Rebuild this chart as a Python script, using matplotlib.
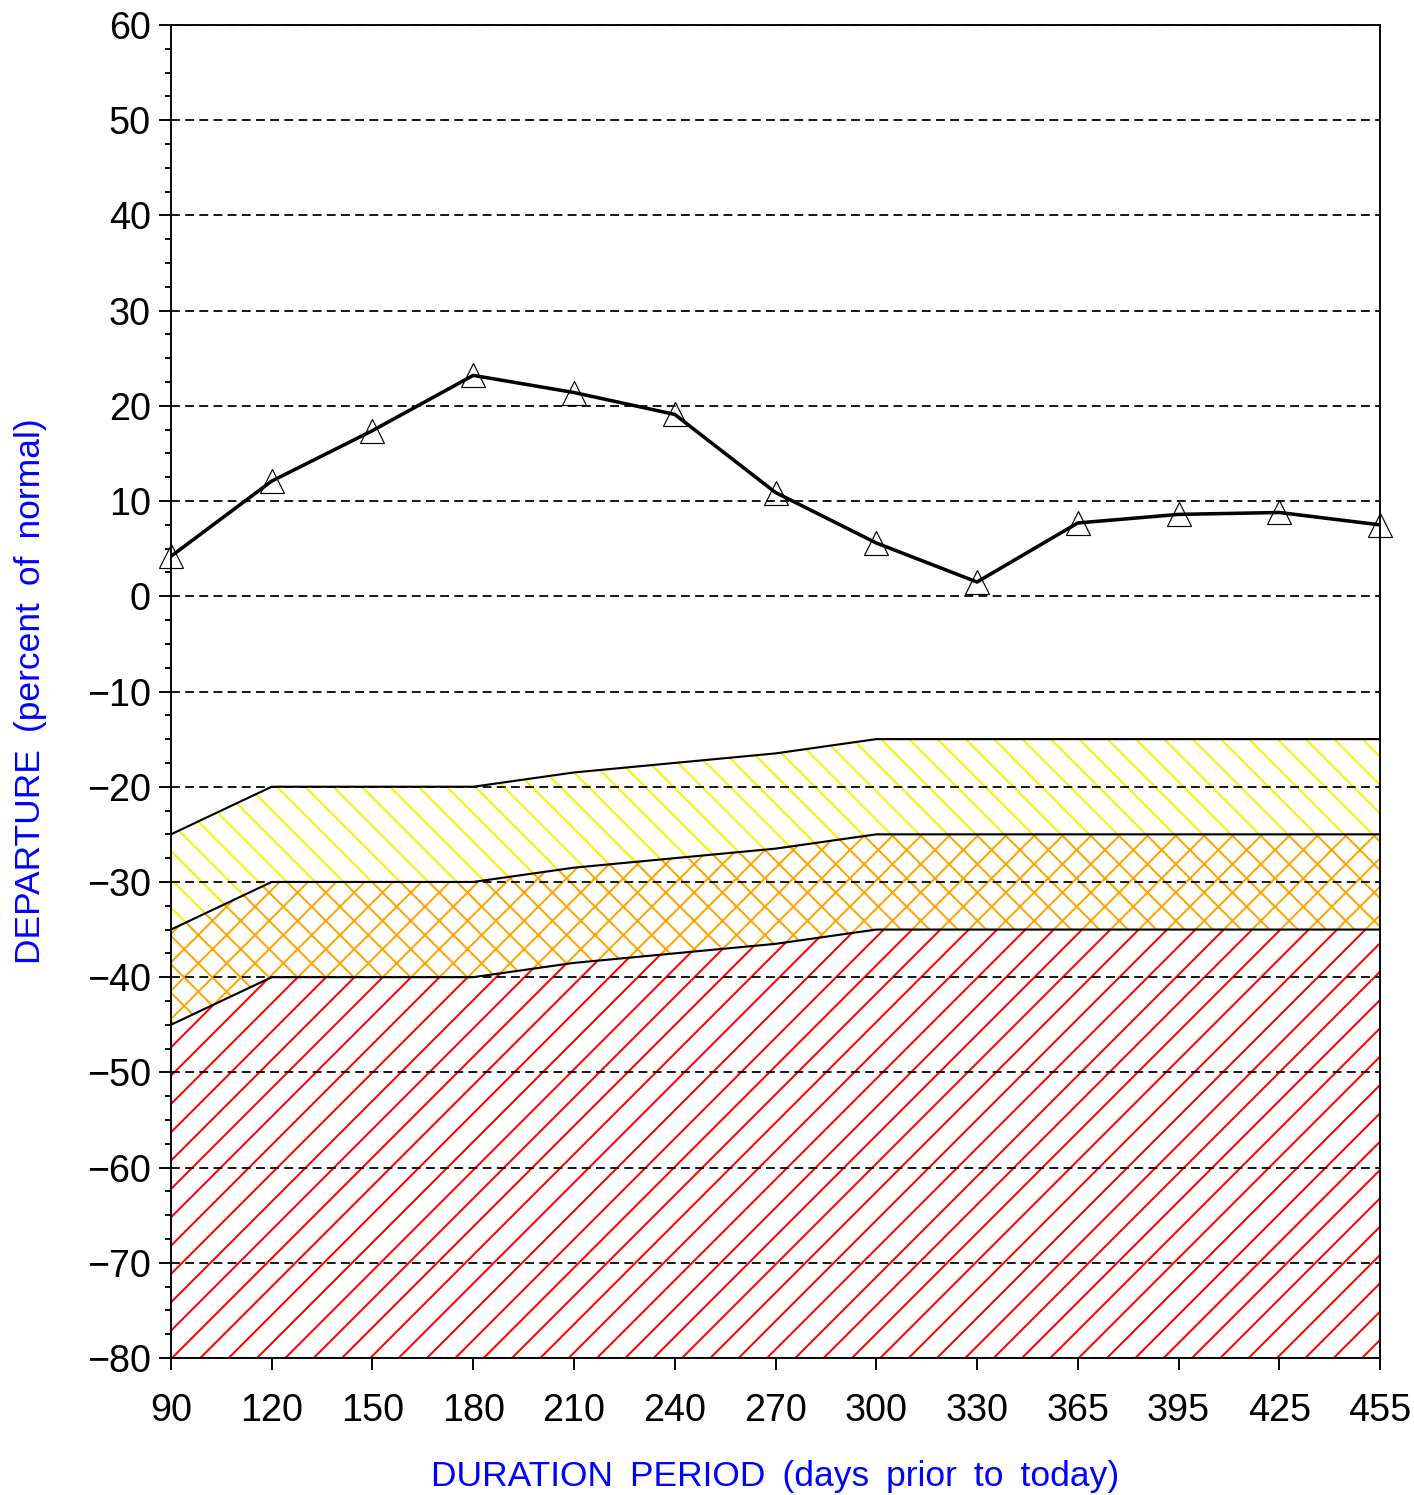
import numpy as np
import matplotlib.pyplot as plt
from matplotlib.ticker import MultipleLocator

plt.rcParams['font.family'] = ['Liberation Sans', 'DejaVu Sans']
plt.rcParams['hatch.linewidth'] = 0.85

# duration periods (days prior to today)
periods = ['90', '120', '150', '180', '210', '240', '270', '300', '330', '365', '395', '425', '455']
# departure (percent of normal)
departure = [4.2, 12.1, 17.4, 23.2, 21.4, 19.1, 10.9, 5.6, 1.5, 7.7, 8.6, 8.8, 7.5]

# drought thresholds
yellow_top = [-25, -20, -20, -20, -18.5, -17.5, -16.5, -15, -15, -15, -15, -15, -15]
orange_top = [-35, -30, -30, -30, -28.5, -27.5, -26.5, -25, -25, -25, -25, -25, -25]
red_top = [-45, -40, -40, -40, -38.5, -37.5, -36.5, -35, -35, -35, -35, -35, -35]
y_bottom = -80

yticks = list(range(-80, 61, 10))
ylabels = [str(v).replace('-', '\u2212') for v in yticks]

x = np.arange(len(periods))

fig = plt.figure(figsize=(1414 / 170, 1495 / 170), dpi=170)
ax = fig.add_axes([0.1209, 0.0916, 0.976 - 0.1209, 0.9833 - 0.0916])

# hatched bands
ax.fill_between(x, orange_top, yellow_top, facecolor='none', edgecolor='#ffee00',
                hatch='\\\\', linewidth=0, zorder=1)
ax.fill_between(x, red_top, orange_top, facecolor='none', edgecolor='orange',
                hatch='xx', linewidth=0, zorder=1)
ax.fill_between(x, y_bottom, red_top, facecolor='none', edgecolor='red',
                hatch='//', linewidth=0, zorder=1)
for edge in (yellow_top, orange_top, red_top):
    ax.plot(x, edge, color='black', lw=0.9, zorder=2)

# departure line
ax.plot(x, departure, color='black', lw=1.5, zorder=3)
ax.plot(x, departure, linestyle='none', marker='^', markersize=10, clip_on=False,
        markerfacecolor='none', markeredgecolor='black', markeredgewidth=0.5, zorder=4)

ax.set_xlim(0, len(periods) - 1)
ax.set_ylim(-80, 60)
ax.set_xticks(x)
ax.set_xticklabels(periods)
ax.set_yticks(yticks)
ax.set_yticklabels(ylabels)
ax.yaxis.set_minor_locator(MultipleLocator(2.5))

ax.grid(axis='y', which='major', color='black', linestyle=(0, (5, 3)), lw=0.75)
ax.set_axisbelow(False)

ax.tick_params(axis='both', which='major', labelsize=16, length=5, width=0.8, direction='out')
ax.tick_params(axis='y', which='minor', length=2.5, width=0.8, direction='out')
ax.tick_params(axis='x', pad=10)
for s in ax.spines.values():
    s.set_linewidth(0.8)

gap = ' \u2009'
ax.set_xlabel(gap.join(['DURATION', 'PERIOD', '(days', 'prior', 'to', 'today)']),
              color='blue', fontsize=15, labelpad=13)
ax.set_ylabel(gap.join(['DEPARTURE', '(percent', 'of', 'normal)']),
              color='blue', fontsize=15, labelpad=17)

plt.savefig('out.png', dpi=170)
